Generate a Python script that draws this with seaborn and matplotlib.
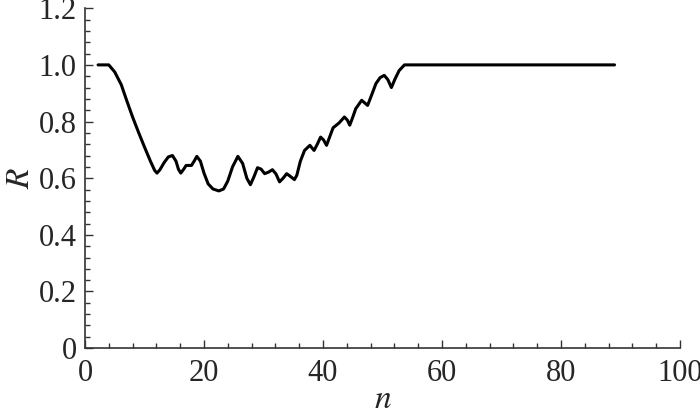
import matplotlib
matplotlib.use("Agg")
import matplotlib.pyplot as plt
import pandas as pd
import seaborn as sns
from matplotlib.ticker import MultipleLocator

# data
n = [2.2, 3.2, 4.0, 5.0, 6.1, 7.0, 8.0, 9.0, 10.0, 11.0, 11.7, 12.1, 12.6, 13.3, 14.0,
     14.7, 15.3, 15.7, 16.1, 16.6, 17.0, 17.9, 18.4, 18.8, 19.4, 20.0, 20.7, 21.5,
     22.5, 23.3, 24.0, 24.8, 25.7, 26.5, 27.2, 27.8, 28.4, 29.0, 29.6, 30.2, 30.9,
     31.5, 32.1, 32.7, 33.3, 33.9, 34.6, 35.2, 35.6, 36.2, 36.9, 37.8, 38.5, 39.0,
     39.6, 40.1, 40.6, 41.2, 41.7, 42.7, 43.6, 44.1, 44.5, 45.0, 45.5, 46.5, 47.5,
     48.2, 48.9, 49.6, 50.3, 50.9, 51.5, 52.1, 52.8, 53.7, 60, 70, 80, 89]
R = [1.0, 1.0, 1.0, 0.975, 0.93, 0.875, 0.816, 0.762, 0.71, 0.66, 0.628, 0.618, 0.63,
     0.655, 0.675, 0.68, 0.66, 0.632, 0.618, 0.632, 0.645, 0.645, 0.662, 0.677, 0.66,
     0.618, 0.58, 0.562, 0.555, 0.562, 0.59, 0.64, 0.677, 0.652, 0.6, 0.577, 0.605,
     0.637, 0.632, 0.616, 0.622, 0.63, 0.615, 0.587, 0.6, 0.616, 0.605, 0.595, 0.61,
     0.66, 0.698, 0.716, 0.698, 0.718, 0.745, 0.735, 0.716, 0.75, 0.778, 0.795, 0.816,
     0.805, 0.787, 0.815, 0.845, 0.875, 0.857, 0.895, 0.934, 0.955, 0.963, 0.948, 0.92,
     0.95, 0.98, 1.0, 1.0, 1.0, 1.0, 1.0]

df = pd.DataFrame({"n": n, "R": R})

sns.set_style("ticks")
plt.rcParams["font.family"] = ["Liberation Serif", "DejaVu Serif"]
plt.rcParams["mathtext.fontset"] = "stix"

fig = plt.figure(figsize=(7, 4.12), dpi=100)
ax = fig.add_axes([0.1214, 0.155, 0.85, 0.825])

sns.lineplot(data=df, x="n", y="R", color="black", linewidth=2.2, ax=ax)

ax.set_xlim(0, 100)
ax.set_ylim(0, 1.2)
ax.xaxis.set_major_locator(MultipleLocator(20))
ax.xaxis.set_minor_locator(MultipleLocator(4))
ax.yaxis.set_minor_locator(MultipleLocator(0.04))
ax.set_yticks([0, 0.2, 0.4, 0.6, 0.8, 1.0, 1.2])
ax.set_yticklabels(["0", "0.2", "0.4", "0.6", "0.8", "1.0", "1.2"])
ax.tick_params(which="major", direction="in", length=6, width=1, labelsize=22, color="#333333")
ax.tick_params(which="minor", direction="in", length=3.5, width=1, color="#333333")
ax.tick_params(axis="x", pad=8)
ax.tick_params(axis="y", pad=6)
ax.set_xlabel("$n$", fontsize=24, labelpad=-3)
ax.set_ylabel("$R$", fontsize=24, labelpad=2)

sns.despine(ax=ax)
for s in ["left", "bottom"]:
    ax.spines[s].set_color("#333333")
    ax.spines[s].set_linewidth(1.2)

fig.savefig("out.png", dpi=100)
